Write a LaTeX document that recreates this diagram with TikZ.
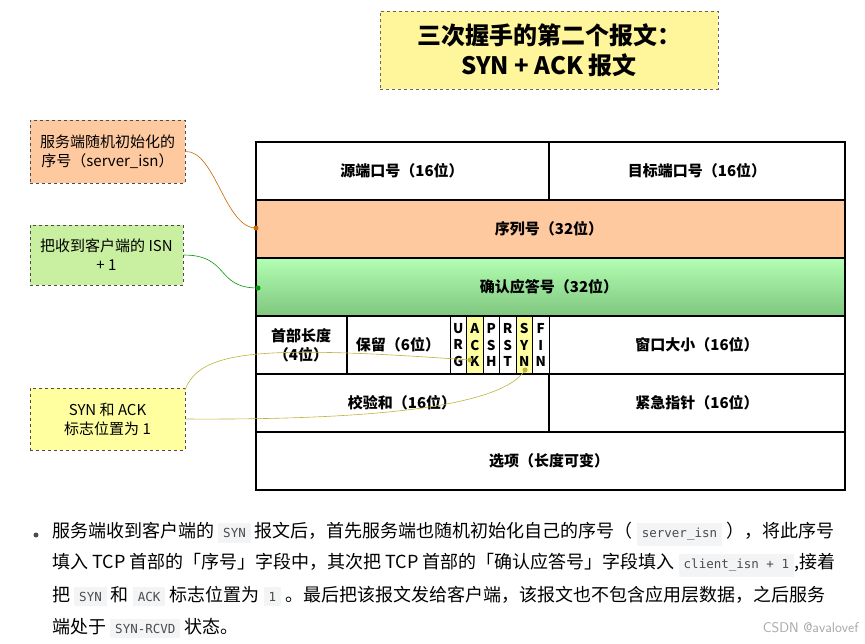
\documentclass[tikz,border=0pt]{standalone}
\usepackage{fontspec}
\setmainfont{Noto Sans CJK SC}
\setmonofont{DejaVu Sans Mono}
\definecolor{codebg}{HTML}{F3F4F5}
\definecolor{orangef}{HTML}{FFC9A0}
\definecolor{greenf}{HTML}{C9EFA0}
\definecolor{yellowf}{HTML}{FFFFA0}
\definecolor{titlef}{HTML}{FFF59A}
\newcommand{\cd}[1]{{\setlength{\fboxsep}{5pt}\colorbox{codebg}{\ttfamily\fontsize{12.5}{14}\selectfont\color{black!70}#1}}}
\begin{document}
\begin{tikzpicture}[x=1pt,y=-1pt,
  cell/.style={draw=black,line width=1.2pt},
  lbl/.style={font=\fontsize{15}{18}\selectfont\bfseries},
  side/.style={draw=black!70,dashed,line width=0.7pt,align=center,font=\fontsize{15}{19}\selectfont},
  flag/.style={font=\fontsize{13.5}{16.5}\selectfont\bfseries,align=center,inner sep=0pt},
  para/.style={anchor=west,font=\fontsize{18}{20}\selectfont,inner sep=0pt}]
\useasboundingbox (0,0) rectangle (865,643);
% title
\node[draw=black!60,dashed,fill=titlef,minimum width=338,minimum height=78,align=center,
  font=\fontsize{24}{30}\selectfont\bfseries] (title) at (549,50) {三次握手的第二个报文：\\ SYN + ACK 报文};
% rows
\fill[orangef] (256,200) rectangle (845,258);
\shade[top color=green!30!white,bottom color=green!55!black!50] (256,258) rectangle (845,316);
\draw[cell] (256,142) rectangle (845,490);
\foreach \y in {200,258,316,374,432} \draw[cell] (256,\y) -- (845,\y);
\draw[cell] (549,142) -- (549,200);
\draw[cell] (549,374) -- (549,432);
\draw[cell] (347,316) -- (347,374);
\fill[yellowf] (466.5,316) rectangle (483,374);
\fill[yellowf] (516,316) rectangle (532.5,374);
\foreach \i in {0,...,6} \draw[cell,line width=0.9pt] (450+\i*16.5,316) -- (450+\i*16.5,374);
\draw[cell] (256,316) -- (845,316) (256,374) -- (845,374);
\node[lbl] (src) at (402,171) {源端口号（16位）};
\node[lbl] (dst) at (697,171) {目标端口号（16位）};
\node[lbl] (seq) at (549,229) {序列号（32位）};
\node[lbl] (ack) at (549,287) {确认应答号（32位）};
\node[lbl,align=center,font=\fontsize{15}{19}\selectfont\bfseries] (hl) at (301,345) {首部长度\\（4位）};
\node[lbl] (rsv) at (398,345) {保留（6位）};
\foreach \t [count=\i from 0] in {U\\R\\G,A\\C\\K,P\\S\\H,R\\S\\T,S\\Y\\N,F\\I\\N}
  \node[flag] (f\i) at (458.25+\i*16.5,345) {\t};
\node[lbl] (win) at (697,345) {窗口大小（16位）};
\node[lbl] (chk) at (402,403) {校验和（16位）};
\node[lbl] (urg) at (697,403) {紧急指针（16位）};
\node[lbl] (opt) at (549,461) {选项（长度可变）};
% side boxes
\node[side,fill=orangef,minimum width=155,minimum height=63] (b1) at (107.5,151.5) {服务端随机初始化的\\序号（server\_isn）};
\node[side,fill=greenf,minimum width=153,minimum height=60] (b2) at (106.5,255) {把收到客户端的 ISN\\+ 1};
\node[side,fill=yellowf,minimum width=155,minimum height=62] (b3) at (107.5,419) {SYN 和 ACK\\标志位置为 1};
\coordinate (p1) at (256,228);
\coordinate (p2) at (258,288);
\coordinate (pa) at (470,360);
\coordinate (ps) at (525,370);
\draw[orange!80!black,line width=0.6pt] (b1.east) .. controls (215,150) and (225,228) .. (p1);
\fill[orange!80!black] (p1) circle (2.5);
\draw[green!60!black,line width=0.6pt] (b2.east) .. controls (230,255) and (215,288) .. (p2);
\fill[green!60!black] (p2) circle (2.5);
\draw[yellow!70!black,line width=0.6pt] (185,390) .. controls (200,350) and (260,345) .. (pa);
\fill[yellow!70!black] (pa) circle (2.5);
\draw[yellow!70!black,line width=0.6pt] (b3.east) .. controls (350,420) and (500,410) .. (ps);
\fill[yellow!70!black] (ps) circle (2.5);
% paragraph
\fill[black!70] (36,535) circle (2.5);
\node[para] (l1) at (52,534) {服务端收到客户端的 \cd{SYN} 报文后，首先服务端也随机初始化自己的序号（ \cd{server\_isn} ），将此序号};
\node[para] (l2) at (52,565) {填入 TCP 首部的「序号」字段中，其次把 TCP 首部的「确认应答号」字段填入 \cd{client\_isn + 1},接着};
\node[para] (l3) at (52,596) {把 \cd{SYN} 和 \cd{ACK} 标志位置为 \cd{1} 。最后把该报文发给客户端，该报文也不包含应用层数据，之后服务};
\node[para] (l4) at (52,628) {端处于 \cd{SYN-RCVD} 状态。};
\node[anchor=east,font=\fontsize{14}{16}\selectfont\sffamily,text=black!35] (wm) at (862,628) {CSDN @avalovef};
\end{tikzpicture}
\end{document}
